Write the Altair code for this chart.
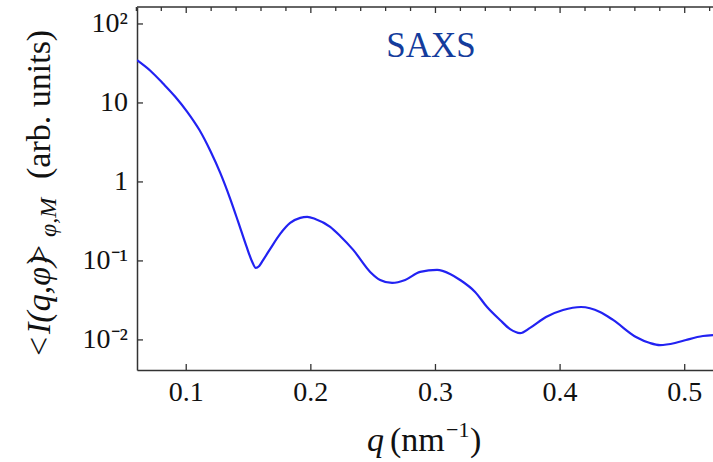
import altair as alt
import pandas as pd

# Orientation-averaged SAXS intensity profile
q_nm = [0.0605, 0.0712, 0.0816, 0.0912, 0.1008, 0.1105, 0.1193, 0.1273, 0.1353,
        0.1417, 0.1482, 0.1530, 0.1558, 0.1586, 0.1618, 0.1674, 0.1754, 0.1834,
        0.1915, 0.1971, 0.2035, 0.2155, 0.2235, 0.2340, 0.2476, 0.2556, 0.2652,
        0.2757, 0.2877, 0.3013, 0.3117, 0.3198, 0.3318, 0.3414, 0.3518, 0.3599,
        0.3679, 0.3759, 0.3887, 0.4024, 0.4168, 0.4320, 0.4425, 0.4609, 0.4721,
        0.4802, 0.4922, 0.5010, 0.5146, 0.5227]
intensity = [34.8, 25.6, 17.5, 12.0, 7.73, 4.57, 2.48, 1.30, 0.611,
             0.312, 0.155, 0.0970, 0.0815, 0.0865, 0.103, 0.142, 0.220, 0.303,
             0.351, 0.361, 0.340, 0.270, 0.207, 0.138, 0.0726, 0.0574, 0.0526,
             0.0574, 0.0726, 0.0769, 0.0684, 0.0574, 0.0405, 0.0261, 0.0179, 0.0137,
             0.0122, 0.0142, 0.0195, 0.0239, 0.0261, 0.0226, 0.0179, 0.0109, 0.00914,
             0.00861, 0.00914, 0.00998, 0.0112, 0.0115]

# Axis ticks and their labels
x_major = [0.1, 0.2, 0.3, 0.4, 0.5]
x_tick_labels = ["0.1", "0.2", "0.3", "0.4", "0.5"]
x_minor = [0.06, 0.08, 0.12, 0.14, 0.16, 0.18, 0.22, 0.24, 0.26, 0.28, 0.32,
           0.34, 0.36, 0.38, 0.42, 0.44, 0.46, 0.48, 0.52]
y_ticks = [0.01, 0.1, 1, 10, 100]
y_tick_labels = ["10⁻²", "10⁻¹", "1", "10", "10²"]

W, H = 576, 363
SERIF = "Liberation Serif"
FRAME = "#333333"
INK = "#111111"

xs = alt.Scale(domain=[0.0605, 0.5227], nice=False, zero=False)
ys = alt.Scale(type="log", domain=[0.00416, 164], nice=False)

# Axes only draw the left and bottom frame lines
frame_axis = dict(labels=False, ticks=False, grid=False,
                  domainColor=FRAME, domainWidth=1.5)

curve = pd.DataFrame({"q": q_nm, "I": intensity})
one = pd.DataFrame({"k": [0]})

line = alt.Chart(curve).mark_line(
    color="#2222f2", strokeWidth=2.2, interpolate="monotone", clip=True
).encode(
    x=alt.X("q:Q", scale=xs, title=None, axis=alt.Axis(**frame_axis)),
    y=alt.Y("I:Q", scale=ys, title=None, axis=alt.Axis(**frame_axis)),
)

# Inward-pointing tick marks on the frame
top_major = alt.Chart(pd.DataFrame({"q": x_major})).mark_rule(
    color=FRAME, strokeWidth=1.3
).encode(x=alt.X("q:Q", scale=xs, title=None), y=alt.value(0), y2=alt.value(6))

top_minor = alt.Chart(pd.DataFrame({"q": x_minor})).mark_rule(
    color=FRAME, strokeWidth=1.3
).encode(x=alt.X("q:Q", scale=xs, title=None), y=alt.value(0), y2=alt.value(4))

bottom_major = alt.Chart(pd.DataFrame({"q": x_major})).mark_rule(
    color=FRAME, strokeWidth=1.3
).encode(x=alt.X("q:Q", scale=xs, title=None), y=alt.value(H), y2=alt.value(H - 6))

left_major = alt.Chart(pd.DataFrame({"I": y_ticks})).mark_rule(
    color=FRAME, strokeWidth=1.3
).encode(y=alt.Y("I:Q", scale=ys, title=None), x=alt.value(0), x2=alt.value(6))

top_edge = alt.Chart(one).mark_rule(color=FRAME, strokeWidth=1.5).encode(
    x=alt.value(0), x2=alt.value(W), y=alt.value(0)
)

# Tick labels
x_labels = alt.Chart(pd.DataFrame({"q": x_major, "lab": x_tick_labels})).mark_text(
    font=SERIF, fontSize=28, color=INK, align="center", baseline="top"
).encode(x=alt.X("q:Q", scale=xs, title=None), y=alt.value(H + 9), text="lab:N")

y_labels = alt.Chart(pd.DataFrame({"I": y_ticks, "lab": y_tick_labels})).mark_text(
    font=SERIF, fontSize=28, color=INK, align="right", baseline="middle"
).encode(y=alt.Y("I:Q", scale=ys, title=None), x=alt.value(-9), text="lab:N")


def label(text, x, y, size=34, italic=False, angle=0, color=INK):
    return alt.Chart(one).mark_text(
        text=text, font=SERIF, fontSize=size, color=color,
        fontStyle="italic" if italic else "normal",
        align="left", baseline="alphabetic", angle=angle,
    ).encode(x=alt.value(x), y=alt.value(y))


saxs = alt.Chart(one).mark_text(
    text="SAXS", font=SERIF, fontSize=35, color="#143c9c",
    align="center", baseline="alphabetic",
).encode(x=alt.value(294), y=alt.value(50))

# x title: q (nm^-1)
x_title = [
    label("q", 230, 444, italic=True),
    label("(nm", 253, 444),
    label("−1", 309, 430, size=22),
    label(")", 333, 444),
]

# y title: <I(q,phi)>_{phi,M} (arb. units), reading upward
y_title = [
    label("<", -87, 349, angle=270),
    label("I(q,φ)", -87, 327, italic=True, angle=270),
    label(">", -87, 257, angle=270),
    label("φ,M", -81, 230, size=24, italic=True, angle=270),
    label("(arb. units)", -87, 172, angle=270),
]

chart = alt.layer(
    line, top_edge, top_major, top_minor, bottom_major, left_major,
    x_labels, y_labels, saxs, *x_title, *y_title,
).properties(
    width=W, height=H,
    autosize=alt.AutoSizeParams(type="none"),
    padding={"left": 137, "top": 7, "right": 0, "bottom": 92},
).configure_view(
    stroke=None
)

chart.save("out.html", embed_options={"renderer": "svg", "actions": False})
